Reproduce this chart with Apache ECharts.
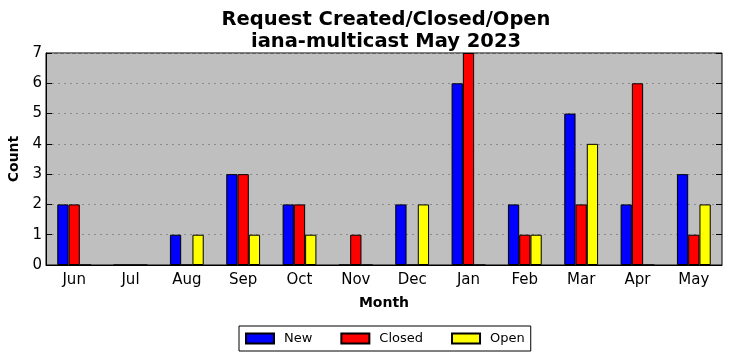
<!DOCTYPE html>
<html><head><meta charset="utf-8">
<script src="https://cdn.jsdelivr.net/npm/echarts@6/dist/echarts.min.js"></script>
<style>html,body{margin:0;padding:0;background:#fff}#c{width:732px;height:361px}</style>
</head><body><div id="c"></div>
<script>
const months = ['Jun','Jul','Aug','Sep','Oct','Nov','Dec','Jan','Feb','Mar','Apr','May'];
const newVals    = [2,0,1,3,2,0,2,6,2,5,2,3];
const closedVals = [2,0,0,3,2,1,0,7,1,2,6,1];
const openVals   = [0,0,1,1,1,0,2,0,1,4,0,2];
const yTicks = [0,1,2,3,4,5,6,7];

const chart = echarts.init(document.getElementById('c'), null, {renderer:'canvas'});
const F = 'DejaVu Sans';
const mk = (name, data, color) => ({
  name, type:'bar', data, xAxisIndex:0, yAxisIndex:0,
  barWidth:'20%', barGap:'0%',
  itemStyle:{color, borderColor:'#000', borderWidth:1},
  emphasis:{disabled:true}
});
chart.setOption({
  animation:false,
  backgroundColor:'#fff',
  title:{text:'Request Created/Closed/Open\niana-multicast May 2023', left:381, top:4, textAlign:'center',
    textStyle:{fontFamily:F, fontWeight:'bold', fontSize:19.5, lineHeight:22, color:'#000'}},
  grid:{left:46, right:10, top:53, bottom:96, outerBoundsMode:'none', containLabel:false, show:true, backgroundColor:'#bfbfbf', borderColor:'#000', borderWidth:1},
  legend:{bottom:10, left:239, icon:'rect', itemWidth:28, itemHeight:10, itemGap:28,
    borderColor:'#000', borderWidth:1, borderRadius:0, padding:[6,6,6,6],
    textStyle:{fontFamily:F, fontSize:13, color:'#000', padding:[0,0,0,5]},
    data:['New','Closed','Open']},
  xAxis:[{type:'category', data:months, name:'Month', nameLocation:'middle', nameGap:31,
    nameTextStyle:{fontFamily:F, fontWeight:'bold', fontSize:14, color:'#000'},
    axisLine:{lineStyle:{color:'#000'}}, axisTick:{inside:true, alignWithLabel:true, length:6, lineStyle:{color:'#000'}},
    axisLabel:{fontFamily:F, fontSize:15, color:'#000', margin:8}},
   {type:'category', data:months, position:'top', axisLine:{show:false},
    axisTick:{inside:true, alignWithLabel:true, length:6, lineStyle:{color:'#000'}}, axisLabel:{show:false}}],
  yAxis:[{type:'value', min:0, max:7, interval:1, name:'Count', nameLocation:'middle', nameGap:23,
    nameTextStyle:{fontFamily:F, fontWeight:'bold', fontSize:14, color:'#000'},
    axisLine:{show:true, lineStyle:{color:'#000'}}, axisTick:{show:true, inside:true, length:6, lineStyle:{color:'#000'}},
    axisLabel:{fontFamily:F, fontSize:15, color:'#000', margin:4, formatter:v=>yTicks.includes(v)?String(v):''},
    splitLine:{show:true, lineStyle:{color:'#8a8a8a', type:[2,4], width:1}}},
   {type:'value', min:0, max:7, interval:1, position:'right', axisLine:{show:false},
    axisTick:{show:true, inside:true, length:6, lineStyle:{color:'#000'}}, axisLabel:{show:false}, splitLine:{show:false}}],
  series:[mk('New', newVals, '#0000ff'), mk('Closed', closedVals, '#ff0000'), mk('Open', openVals, '#ffff00')]
});
</script></body></html>
